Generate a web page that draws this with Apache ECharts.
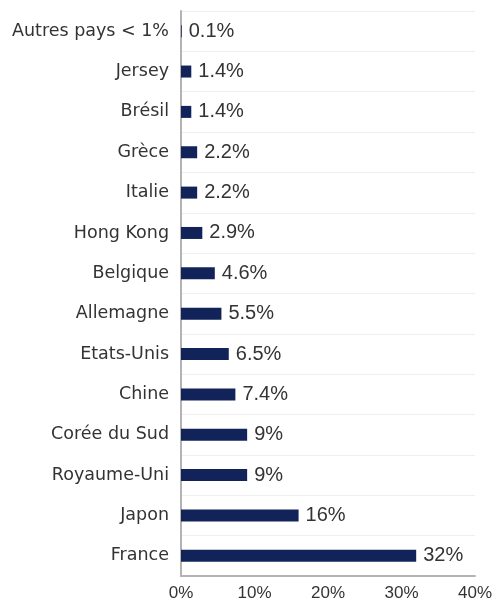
<!DOCTYPE html>
<html>
<head>
<meta charset="utf-8">
<script src="https://cdn.jsdelivr.net/npm/echarts@6/dist/echarts.min.js"></script>
<style>
  html, body { margin: 0; padding: 0; background: #fff; }
  #chart { width: 495px; height: 602px; }
</style>
</head>
<body>
<div id="chart"></div>
<script>
// categories, bottom to top (category axis starts at the bottom)
var pays = ['France', 'Japon', 'Royaume-Uni', 'Corée du Sud', 'Chine', 'Etats-Unis',
  'Allemagne', 'Belgique', 'Hong Kong', 'Italie', 'Grèce', 'Brésil', 'Jersey', 'Autres pays < 1%'];
var parts = [32, 16, 9, 9, 7.4, 6.5, 5.5, 4.6, 2.9, 2.2, 2.2, 1.4, 1.4, 0.1];
var ticks = [0, 10, 20, 30, 40];

var chart = echarts.init(document.getElementById('chart'));
var option = {
  animation: false,
  grid: {
    left: 181,
    right: 20,
    top: 11,
    bottom: 26,
    containLabel: false
  },
  xAxis: {
    type: 'value',
    min: ticks[0],
    max: ticks[ticks.length - 1],
    interval: 10,
    axisLine: { show: true, lineStyle: { color: '#b3b3b3', width: 2 } },
    axisTick: { show: false },
    splitLine: { show: false },
    axisLabel: {
      formatter: '{value}%',
      color: '#333',
      fontFamily: 'Liberation Sans',
      fontSize: 17,
      margin: 9
    }
  },
  yAxis: {
    type: 'category',
    data: pays,
    axisLine: { show: true, lineStyle: { color: '#b3b3b3', width: 2 } },
    axisTick: { show: false },
    splitLine: { show: true, lineStyle: { color: '#efefef', width: 1 } },
    axisLabel: {
      color: '#333',
      fontFamily: 'DejaVu Sans',
      fontSize: 17.5,
      margin: 12
    }
  },
  series: [
    {
      name: 'Part',
      type: 'bar',
      data: parts,
      barWidth: 12,
      itemStyle: { color: '#12235a' },
      label: {
        show: true,
        position: 'right',
        distance: 7,
        color: '#333',
        fontFamily: 'Liberation Sans',
        fontSize: 20,
        formatter: function (p) { return p.value + '%'; }
      }
    }
  ]
};
chart.setOption(option);
</script>
</body>
</html>
